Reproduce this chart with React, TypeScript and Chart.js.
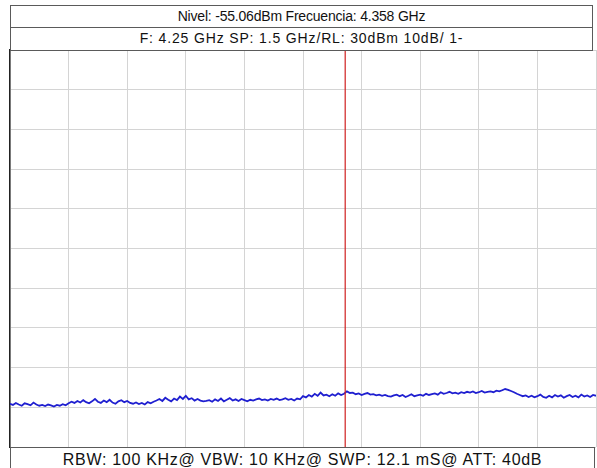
import React, { useEffect, useRef } from "react";
import { Chart, registerables } from "chart.js";

Chart.register(...registerables);

const HEADER_LINE_1 = "Nivel: -55.06dBm Frecuencia: 4.358 GHz";
const HEADER_LINE_2 = "F: 4.25 GHz SP: 1.5 GHz/RL: 30dBm 10dB/ 1-";
const FOOTER_LINE = "RBW: 100 KHz@ VBW: 10 KHz@ SWP: 12.1 mS@ ATT: 40dB";

const FREQ_START = 3.5; // GHz
const FREQ_STOP = 5.0; // GHz
const REF_LEVEL = 30; // dBm
const BOTTOM_LEVEL = -70; // dBm

const X_TICKS = [3.5, 3.65, 3.8, 3.95, 4.1, 4.25, 4.4, 4.55, 4.7, 4.85, 5.0];
const Y_TICKS = [30, 20, 10, 0, -10, -20, -30, -40, -50, -60, -70];

const MARKER_FREQ = 4.358;

// trace levels in dBm, read from the sweep (201 points across the span)
const TRACE_LEVELS = [
  -59.1, -59.4, -58.9, -59.3, -59.6, -59.0, -59.2, -59.5, -58.8, -59.3,
  -59.6, -59.4, -59.7, -59.3, -59.5, -59.8, -59.4, -59.6, -59.2, -59.5,
  -59.0, -58.6, -58.9, -58.4, -58.8, -58.2, -58.7, -59.0, -58.5, -57.9,
  -58.6, -58.9, -58.3, -58.7, -58.1, -58.8, -59.1, -58.5, -58.2, -58.7,
  -58.4, -58.9,
  -59.1, -58.8, -59.2, -58.9, -59.3, -58.7, -59.0, -58.6,
  -58.3, -57.9, -58.4, -57.6, -58.1, -58.5, -57.8, -58.2, -57.3, -57.9,
  -57.1, -58.0, -57.7, -58.3, -57.9,
  -58.3, -58.5, -58.4, -58.2, -58.6, -58.0, -58.4, -57.8, -58.5, -58.1,
  -57.7, -58.3, -58.0, -58.4, -57.9, -58.2, -58.5, -58.1, -58.3, -58.0,
  -57.8, -58.2, -58.0, -58.3, -57.9, -58.1, -57.8, -58.2, -58.0, -57.7,
  -58.1, -57.9, -58.3, -57.8, -58.0,
  -57.2, -57.5, -56.9, -57.3, -56.6, -57.1, -56.3, -57.0, -56.8, -57.2,
  -56.7, -57.1, -56.5, -56.9, -56.6,
  -56.0, -56.4, -56.3, -56.7, -56.5, -56.9, -56.6, -56.4, -56.8, -56.7,
  -57.0, -56.8, -57.1, -56.9, -57.2,
  -57.3, -57.0, -56.8, -57.2, -56.9, -57.4, -57.1, -56.7, -57.2, -57.0,
  -56.8, -57.1, -56.6, -56.9, -56.7,
  -56.5, -56.8, -56.2, -56.6, -56.4, -56.1, -56.5, -56.3, -56.6, -56.2,
  -56.4, -56.1, -56.3, -56.0, -56.4, -56.2, -55.9, -56.3, -56.1, -56.0,
  -56.2, -55.8, -56.0,
  -55.7, -55.4, -55.6, -55.9, -56.2,
  -56.6, -56.9, -57.2, -57.0, -57.4, -57.1, -57.5, -57.2, -56.8, -57.4,
  -57.6, -57.1, -57.5, -56.9, -57.3, -57.0, -57.6, -57.2, -56.9, -57.4,
  -57.1, -57.5, -56.8, -57.3, -57.0, -57.4, -56.9, -57.1,
];

const FONT = '"Liberation Sans", Arial, sans-serif';

const boxStyle = (
  left: number,
  top: number,
  width: number,
  height: number,
  fontSize: number,
  letterSpacing: number,
  lineHeight: number
): React.CSSProperties => ({
  position: "absolute",
  left,
  top,
  width,
  height,
  boxSizing: "border-box",
  border: "1px solid #5a5a5a",
  background: "#ffffff",
  fontFamily: FONT,
  fontSize,
  letterSpacing,
  color: "#111",
  textAlign: "center",
  lineHeight: `${lineHeight}px`,
  whiteSpace: "nowrap",
  overflow: "hidden",
});

export default function App() {
  const canvasRef = useRef<HTMLCanvasElement | null>(null);

  useEffect(() => {
    document.body.style.margin = "0";
    const canvas = canvasRef.current;
    if (!canvas) return;
    const step = (FREQ_STOP - FREQ_START) / (TRACE_LEVELS.length - 1);
    const traceData = TRACE_LEVELS.map((v, i) => ({ x: FREQ_START + i * step, y: v }));
    const markerData = [
      { x: MARKER_FREQ, y: REF_LEVEL },
      { x: MARKER_FREQ, y: BOTTOM_LEVEL },
    ];

    const chart = new Chart(canvas, {
      type: "line",
      data: {
        datasets: [
          {
            label: "Marker",
            data: markerData,
            borderColor: "#d02020",
            borderWidth: 1.2,
            pointRadius: 0,
            order: 0,
          },
          {
            label: "Trace",
            data: traceData,
            borderColor: "#1f1fd0",
            borderWidth: 1.8,
            pointRadius: 0,
            tension: 0,
            order: 1,
          },
        ],
      },
      options: {
        animation: false,
        responsive: false,
        maintainAspectRatio: false,
        events: [],
        layout: { padding: { left: 10, top: 50, right: 1, bottom: 21 } },
        plugins: {
          legend: { display: false },
          tooltip: { enabled: false },
          title: { display: false },
        },
        scales: {
          x: {
            type: "linear",
            min: FREQ_START,
            max: FREQ_STOP,
            afterBuildTicks: (scale: any) => {
              scale.ticks = X_TICKS.map((v) => ({ value: v }));
            },
            ticks: { display: false },
            grid: { color: "#d4d4d4", lineWidth: 1, drawTicks: false },
            border: { display: false },
          },
          y: {
            type: "linear",
            min: BOTTOM_LEVEL,
            max: REF_LEVEL,
            afterBuildTicks: (scale: any) => {
              scale.ticks = Y_TICKS.map((v) => ({ value: v }));
            },
            ticks: { display: false },
            grid: { color: "#d4d4d4", lineWidth: 1, drawTicks: false },
            border: { display: true, color: "#222", width: 1.5 },
          },
        },
      },
    });
    return () => chart.destroy();
  }, []);

  return (
    <div
      style={{
        position: "fixed",
        left: 0,
        top: 0,
        width: 597,
        height: 468,
        background: "#ffffff",
        overflow: "hidden",
      }}
    >
      <canvas
        ref={canvasRef}
        width={597}
        height={468}
        style={{ position: "absolute", left: 0, top: 0, width: 597, height: 468 }}
      />
      <div style={boxStyle(10, 5, 583, 23, 14, -0.2, 21)}>{HEADER_LINE_1}</div>
      <div style={boxStyle(10, 27, 583, 24, 14, 0.85, 21)}>{HEADER_LINE_2}</div>
      <div style={boxStyle(10, 447, 585, 26, 16, 0.7, 24)}>{FOOTER_LINE}</div>
    </div>
  );
}
